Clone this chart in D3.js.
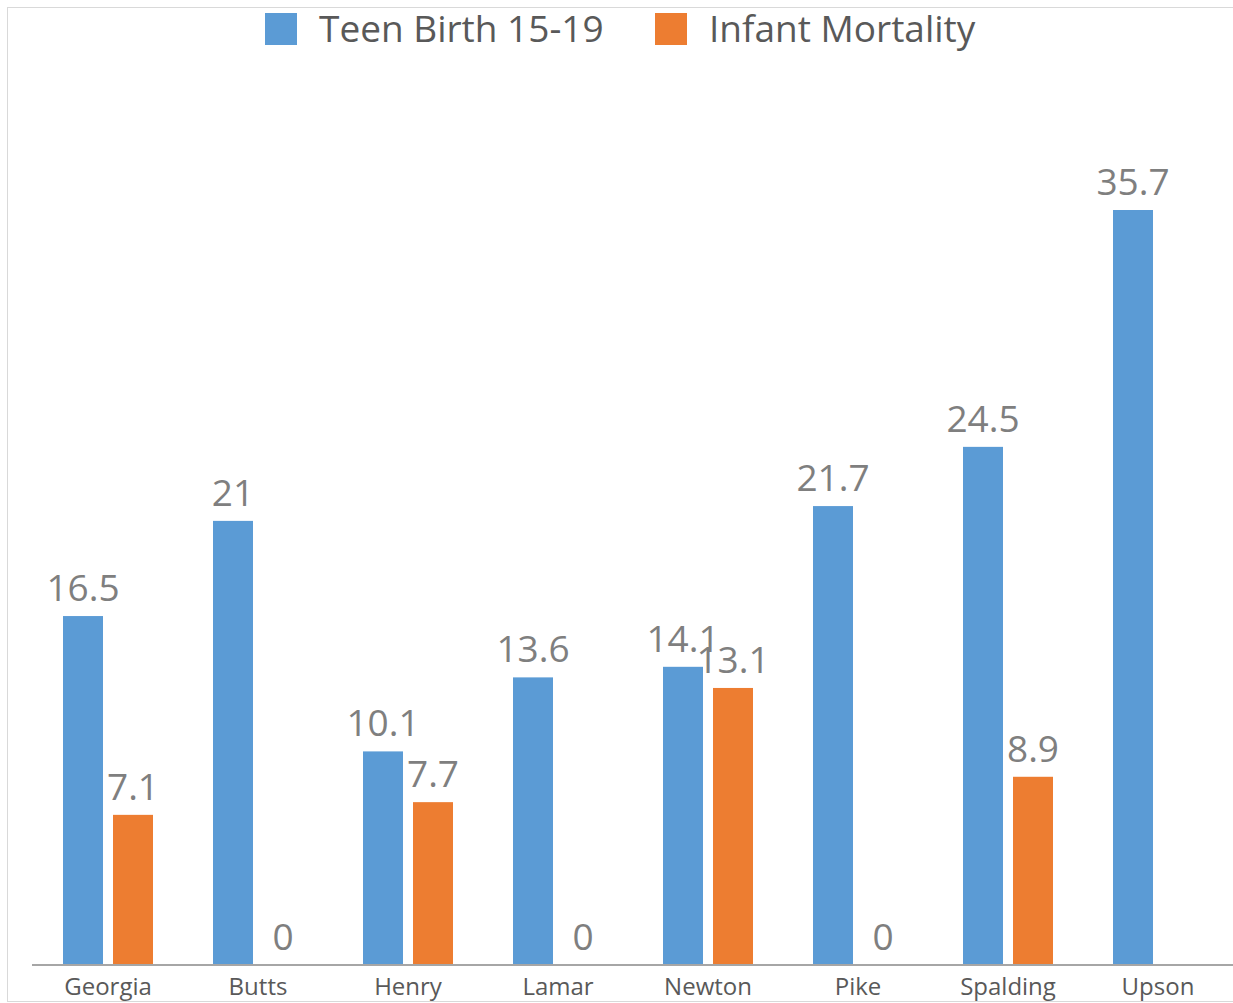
<!DOCTYPE html>
<html>
<head>
<meta charset="utf-8">
<script src="https://cdn.jsdelivr.net/npm/d3@7"></script>
<style>
  body { margin: 0; background: #fff; }
  svg { font-family: "Open Sans", sans-serif; }
</style>
</head>
<body>
<div id="chart"></div>
<script>
// chart data
const counties = ["Georgia", "Butts", "Henry", "Lamar", "Newton", "Pike", "Spalding", "Upson"];
const teenBirth = [16.5, 21, 10.1, 13.6, 14.1, 21.7, 24.5, 35.7];
const infantMortality = [7.1, 0, 7.7, 0, 13.1, 0, 8.9, null];
const seriesNames = ["Teen Birth 15-19", "Infant Mortality"];
const seriesColors = ["#5b9bd5", "#ed7d31"];

const W = 1233, H = 1003;
const margin = { top: 0, right: 0, bottom: 38, left: 33 };
const baseline = H - margin.bottom;

const svg = d3.select("#chart").append("svg")
  .attr("width", W)
  .attr("height", H);

// chart frame
svg.append("rect")
  .attr("x", 7.5).attr("y", 7.5)
  .attr("width", W + 10).attr("height", 994)
  .attr("fill", "none")
  .attr("stroke", "#d9d9d9");

const x = d3.scaleBand()
  .domain(counties)
  .range([margin.left, W])
  .paddingInner(0)
  .paddingOuter(0);

// two bars of 40px with a 10px gap, centred in each band
const x1 = d3.scaleBand()
  .domain([0, 1])
  .range([x.bandwidth() / 2 - 45, x.bandwidth() / 2 + 45])
  .paddingInner(0.2);

const y = d3.scaleLinear()
  .domain([0, 35.7])
  .range([baseline, 210]);

const rows = counties.map((c, i) => ({ county: c, values: [teenBirth[i], infantMortality[i]] }));

const groups = svg.selectAll(".grp")
  .data(rows)
  .enter().append("g")
  .attr("class", "grp")
  .attr("transform", d => `translate(${x(d.county)},0)`);

groups.each(function (d) {
  const g = d3.select(this);
  d.values.forEach((v, s) => {
    if (v === null) return;
    g.append("rect")
      .attr("x", x1(s))
      .attr("y", y(v))
      .attr("width", x1.bandwidth())
      .attr("height", baseline - y(v))
      .attr("fill", seriesColors[s]);
    g.append("text")
      .attr("x", x1(s) + x1.bandwidth() / 2)
      .attr("y", y(v) - 15)
      .attr("text-anchor", "middle")
      .style("font-size", "37px")
      .style("fill", "#7f7f7f")
      .text(v);
  });
});

// x axis
const xAxis = svg.append("g")
  .attr("transform", `translate(0,${baseline})`)
  .call(d3.axisBottom(x).tickSize(0).tickPadding(13));
xAxis.select(".domain").attr("stroke", "#a6a6a6").attr("stroke-width", 2)
  .attr("d", `M${margin.left - 1},0H${W}`);
xAxis.selectAll("text")
  .style("font-family", "'Open Sans', sans-serif")
  .style("font-size", "24px")
  .style("fill", "#595959");

// legend
const legendX = [265, 655];
const legend = svg.selectAll(".leg")
  .data(seriesNames)
  .enter().append("g")
  .attr("class", "leg")
  .attr("transform", (d, i) => `translate(${legendX[i]},13)`);
legend.append("rect")
  .attr("width", 32).attr("height", 32)
  .attr("fill", (d, i) => seriesColors[i]);
legend.append("text")
  .attr("x", 54).attr("y", 29)
  .style("font-size", "37px")
  .style("fill", "#595959")
  .text(d => d);
</script>
</body>
</html>
